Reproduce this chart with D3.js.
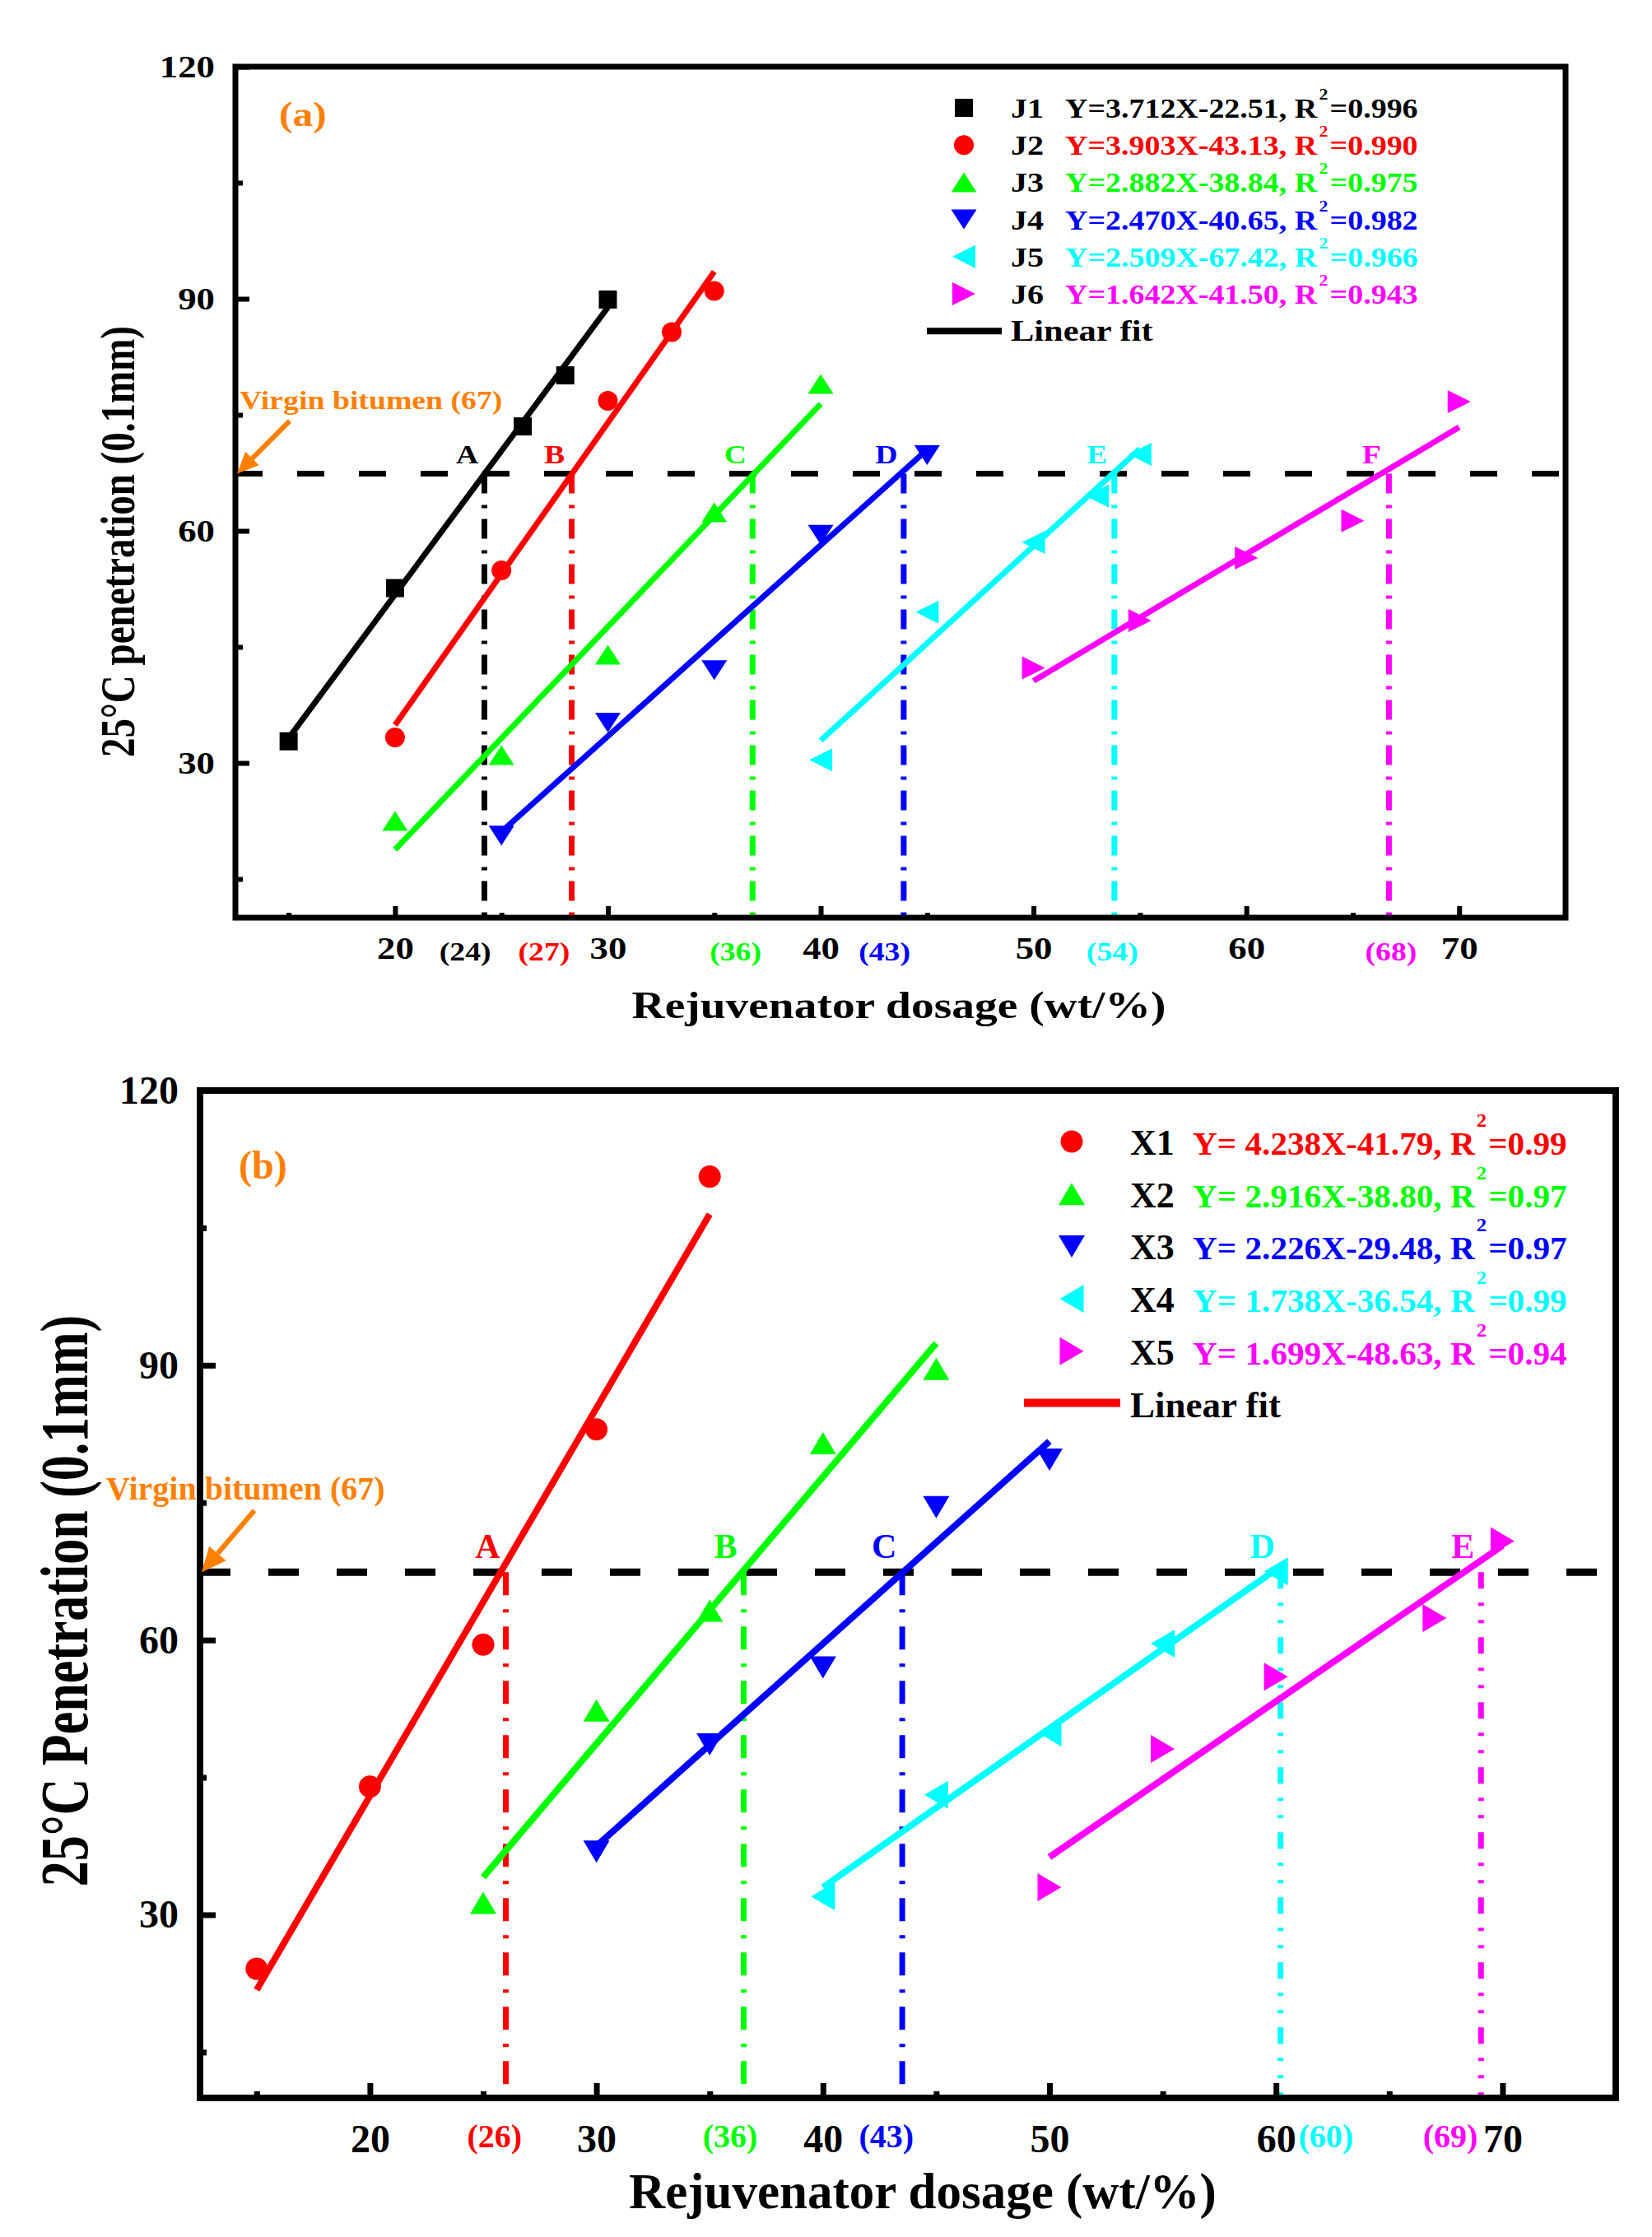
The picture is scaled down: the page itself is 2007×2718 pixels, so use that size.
<!DOCTYPE html>
<html>
<head>
<meta charset="utf-8">
<script src="https://cdn.jsdelivr.net/npm/d3@7"></script>
<style>
  body { margin: 0; background: #fff; }
  text { font-family: "Liberation Serif", "Times New Roman", serif; font-weight: bold; }
</style>
</head>
<body>
<svg id="chart" width="2007" height="2718"></svg>
<script>
// ---- shared axis values ----
var doseMajor = [20, 30, 40, 50, 60, 70];
var doseMinor = [15, 25, 35, 45, 55, 65];
var penMajor = [30, 60, 90, 120];
var penMinor = [15, 45, 75, 105];
var virginPen = 67.4;   // where the dashed reference line sits in the picture

// ---- panel (a): J1..J6 ----
var jNames = ["J1", "J2", "J3", "J4", "J5", "J6"];
var jShapes = ["square", "circle", "up", "down", "left", "right"];
var jColors = ["#000000", "#ff0000", "#00ff00", "#0000ff", "#00ffff", "#ff00ff"];
var jEq = ["Y=3.712X-22.51, R", "Y=3.903X-43.13, R", "Y=2.882X-38.84, R",
           "Y=2.470X-40.65, R", "Y=2.509X-67.42, R", "Y=1.642X-41.50, R"];
var jR2 = ["=0.996", "=0.990", "=0.975", "=0.982", "=0.966", "=0.943"];
var jDose = [[15, 20, 26, 28, 30], [20, 25, 30, 33, 35], [20, 25, 30, 35, 40],
             [25, 30, 35, 40, 45], [40, 45, 50, 53, 55], [50, 55, 60, 65, 70]];
var jPen = [[32.8, 52.6, 73.5, 80.1, 89.9], [33.3, 54.9, 76.8, 85.7, 91.0],
            [22.5, 31.0, 44.0, 62.4, 79.0], [20.6, 35.2, 42.0, 59.5, 69.8],
            [30.4, 49.5, 58.5, 64.5, 69.9], [42.3, 48.4, 56.5, 61.3, 76.7]];
var jFitStart = [[15, 33.2], [20, 34.9], [20, 18.8], [25, 21.1], [40, 32.9], [50, 40.6]];
var jFitEnd = [[30, 88.9], [35, 93.5], [40, 76.4], [45, 70.5], [55, 70.6], [70, 73.4]];
var jCross = [24.2, 28.3, 36.8, 43.9, 53.8, 66.7];
var jLetters = ["A", "B", "C", "D", "E", "F"];
var jCrossText = ["(24)", "(27)", "(36)", "(43)", "(54)", "(68)"];
var jCrossTextAt = [23.3, 27.0, 36.0, 43.0, 53.7, 66.8];

// ---- panel (b): X1..X5 ----
var xNames = ["X1", "X2", "X3", "X4", "X5"];
var xShapes = ["circle", "up", "down", "left", "right"];
var xColors = ["#ff0000", "#00ff00", "#0000ff", "#00ffff", "#ff00ff"];
var xEq = ["Y= 4.238X-41.79, R", "Y= 2.916X-38.80, R", "Y= 2.226X-29.48, R",
           "Y= 1.738X-36.54, R", "Y= 1.699X-48.63, R"];
var xR2 = ["=0.99", "=0.97", "=0.97", "=0.99", "=0.94"];
var xDose = [[15, 20, 25, 30, 35], [25, 30, 35, 40, 45], [30, 35, 40, 45, 50],
             [40, 45, 50, 55, 60], [50, 55, 60, 67, 70]];
var xPen = [[24.1, 44.0, 59.5, 83.0, 110.6], [31.3, 52.3, 63.2, 81.5, 89.6],
            [36.9, 48.6, 57.0, 74.5, 79.7], [32.0, 43.1, 49.9, 59.6, 67.5],
            [33.0, 48.1, 56.0, 62.4, 70.8]];
var xFitStart = [[15, 21.8], [25, 34.1], [30, 37.5], [40, 33.0], [50, 36.3]];
var xFitEnd = [[35, 106.5], [45, 92.4], [50, 81.7], [60, 67.7], [70, 70.3]];
var xCross = [26.0, 36.5, 43.5, 60.2, 69.05];
var xLetters = ["A", "B", "C", "D", "E"];
var xCrossText = ["(26)", "(36)", "(43)", "(60)", "(69)"];
var xCrossTextAt = [25.5, 35.9, 42.8, 62.2, 67.7];

var ORANGE = "#ff8000";
var svg = d3.select("#chart");
svg.append("rect").attr("width", 2007).attr("height", 2718).attr("fill", "#fff");

// text placed with a horizontal stretch (panel a is wider than plain Times)
function label(g, x, y, s, size, sx, anchor, color, weight) {
    return g.append("text")
        .attr("transform", "translate(" + x + "," + y + ") scale(" + sx + ",1)")
        .attr("font-size", size)
        .attr("text-anchor", anchor || "start")
        .attr("fill", color || "#000")
        .attr("font-weight", weight || "bold")
        .text(s);
}

// marker path, w = horizontal extent, h = vertical extent
function markerPath(shape, cx, cy, w, h) {
    var a = w / 2, b = h / 2;
    if (shape === "square") return "M" + (cx - a) + "," + (cy - b) + "h" + w + "v" + h + "h" + (-w) + "Z";
    if (shape === "circle") return "M" + (cx - a) + "," + cy + "a" + a + "," + b + " 0 1,0 " + w + ",0a" + a + "," + b + " 0 1,0 " + (-w) + ",0Z";
    if (shape === "up") return "M" + (cx - a) + "," + (cy + b) + "L" + (cx + a) + "," + (cy + b) + "L" + cx + "," + (cy - b) + "Z";
    if (shape === "down") return "M" + (cx - a) + "," + (cy - b) + "L" + (cx + a) + "," + (cy - b) + "L" + cx + "," + (cy + b) + "Z";
    if (shape === "left") return "M" + (cx - a) + "," + cy + "L" + (cx + a) + "," + (cy - b) + "L" + (cx + a) + "," + (cy + b) + "Z";
    return "M" + (cx + a) + "," + cy + "L" + (cx - a) + "," + (cy - b) + "L" + (cx - a) + "," + (cy + b) + "Z";
}

function markerSize(p, shape) {
    if (shape === "square") return [p.sq, p.sq];
    if (shape === "circle") return [p.circ, p.circ];
    if (shape === "up" || shape === "down") return [p.triW, p.triH];
    return [p.sideW, p.sideH];
}

function drawPanel(p) {
    var g = svg.append("g");
    var x = d3.scaleLinear().domain([12.5, 75]).range([p.left, p.right]);
    var y = d3.scaleLinear().domain([10, 120]).range([p.bottom, p.top]);

    // dashed reference line
    g.append("line")
        .attr("x1", x(12.5)).attr("x2", x(75))
        .attr("y1", y(virginPen)).attr("y2", y(virginPen))
        .attr("stroke", "#000").attr("stroke-width", p.dashW)
        .attr("stroke-dasharray", p.dash);

    // vertical drop lines
    p.cross.forEach(function (c, i) {
        g.append("line")
            .attr("x1", x(c)).attr("x2", x(c))
            .attr("y1", y(virginPen)).attr("y2", y(10))
            .attr("stroke", p.colors[i]).attr("stroke-width", p.dropW)
            .attr("stroke-dasharray", p.dropDash[i]);
        label(g, x(c) - p.letterDx, y(virginPen) - p.letterDy, p.letters[i], p.letterSize, p.sx, "middle", p.colors[i]);
    });

    // fit lines
    p.fitStart.forEach(function (s, i) {
        g.append("line")
            .attr("x1", x(s[0])).attr("y1", y(s[1]))
            .attr("x2", x(p.fitEnd[i][0])).attr("y2", y(p.fitEnd[i][1]))
            .attr("stroke", p.colors[i]).attr("stroke-width", p.fitW);
    });

    // points
    p.dose.forEach(function (ds, i) {
        var sz = markerSize(p, p.shapes[i]);
        g.selectAll(null).data(ds).enter().append("path")
            .attr("d", function (d, k) { return markerPath(p.shapes[i], x(d), y(p.pen[i][k]), sz[0], sz[1]); })
            .attr("fill", p.colors[i]);
    });

    // frame
    g.append("rect")
        .attr("x", p.left).attr("y", p.top)
        .attr("width", p.right - p.left).attr("height", p.bottom - p.top)
        .attr("fill", "none").attr("stroke", "#000").attr("stroke-width", p.frameW);

    // axes, ticks pointing inward
    function axisStyle(ax) {
        ax.select(".domain").remove();
        ax.selectAll("line").attr("stroke-width", p.tickW);
        ax.attr("font-family", null).attr("font-size", null);
    }
    var yMinor = g.append("g").attr("transform", "translate(" + p.left + ",0)")
        .call(d3.axisLeft(y).tickValues(penMinor).tickSizeInner(-p.yTickMinor).tickSizeOuter(0).tickFormat(""));
    axisStyle(yMinor);
    var yMajor = g.append("g").attr("transform", "translate(" + p.left + ",0)")
        .call(d3.axisLeft(y).tickValues(penMajor).tickSizeInner(-p.yTickMajor).tickSizeOuter(0).tickPadding(p.yPad));
    axisStyle(yMajor);
    yMajor.selectAll("text")
        .attr("font-size", p.tickSize).attr("fill", "#000")
        .attr("transform", function () { return "translate(" + d3.select(this).attr("x") + ",0) scale(" + p.sx + ",1)"; })
        .attr("x", 0);

    var xMinor = g.append("g").attr("transform", "translate(0," + p.bottom + ")")
        .call(d3.axisBottom(x).tickValues(doseMinor).tickSizeInner(-p.xTickMinor).tickSizeOuter(0).tickFormat(""));
    axisStyle(xMinor);
    var xMajor = g.append("g").attr("transform", "translate(0," + p.bottom + ")")
        .call(d3.axisBottom(x).tickValues(doseMajor).tickSizeInner(-p.xTickMajor).tickSizeOuter(0));
    axisStyle(xMajor);
    xMajor.selectAll("text")
        .attr("font-size", p.tickSize).attr("fill", "#000")
        .attr("y", 0).attr("dy", 0)
        .attr("transform", "translate(0," + p.xLabDy + ") scale(" + p.sx + ",1)");

    // coloured crossing values under the axis
    p.crossText.forEach(function (t, i) {
        label(g, x(p.crossTextAt[i]), p.bottom + p.crossDy, t, p.crossSize, p.sx, "middle", p.colors[i], p.crossWeight);
    });

    // axis titles
    label(g, p.xTitleX, p.xTitleY, "Rejuvenator dosage (wt/%)", p.xTitleSize, p.sx, "middle");
    g.append("text")
        .attr("transform", "translate(" + p.yTitleX + "," + p.yTitleY + ") rotate(-90) scale(1," + p.yTitleStretch + ")")
        .attr("text-anchor", "middle").attr("font-size", p.yTitleSize).attr("fill", "#000")
        .text(p.yTitle);

    // panel tag
    label(g, p.tagX, p.tagY, p.tag, p.tagSize, p.sx, "start", ORANGE);

    // virgin bitumen annotation with arrow
    var tipX = x(12.5) + 2, tipY = y(virginPen);
    var tailX = tipX + p.arrowDx, tailY = tipY - p.arrowDy;
    var ang = Math.atan2(tipY - tailY, tipX - tailX);
    var hl = p.arrowHead, hw = p.arrowHead * 0.45;
    var bx = tipX - hl * Math.cos(ang), by = tipY - hl * Math.sin(ang);
    g.append("line").attr("x1", tailX).attr("y1", tailY).attr("x2", bx).attr("y2", by)
        .attr("stroke", ORANGE).attr("stroke-width", p.arrowW);
    g.append("path")
        .attr("d", "M" + tipX + "," + tipY +
            "L" + (bx + hw * Math.sin(ang)) + "," + (by - hw * Math.cos(ang)) +
            "L" + (bx - hw * Math.sin(ang)) + "," + (by + hw * Math.cos(ang)) + "Z")
        .attr("fill", ORANGE);
    label(g, p.virginX, p.virginY, "Virgin bitumen (67)", p.virginSize, p.sx, "start", ORANGE);

    // legend
    p.names.forEach(function (n, i) {
        var cy = p.legTop + i * p.legStep;
        var sz = markerSize(p, p.shapes[i]);
        g.append("path").attr("d", markerPath(p.shapes[i], p.legSymX, cy - p.legSymUp, sz[0], sz[1])).attr("fill", p.colors[i]);
        label(g, p.legNameX, cy, n, p.legNameSize, p.sx, "start", "#000");
        var t = label(g, p.legEqX, cy, "", p.legEqSize, p.legSx, "start", p.colors[i]);
        t.append("tspan").text(p.eq[i]);
        t.append("tspan").attr("font-size", p.supSize).attr("dy", -p.supUp).attr("dx", 2).text("2");
        t.append("tspan").attr("dy", p.supUp).attr("dx", 2).text(p.r2[i]);
    });
    var ly = p.legTop + p.names.length * p.legStep;
    g.append("line")
        .attr("x1", p.legLineX1).attr("x2", p.legLineX2)
        .attr("y1", ly - p.legLineUp).attr("y2", ly - p.legLineUp)
        .attr("stroke", p.legLineColor).attr("stroke-width", p.legLineW);
    label(g, p.legNameX, ly, "Linear fit", p.legFitSize, p.sx, "start", "#000");
}

drawPanel({
    left: 286, right: 1902, top: 81, bottom: 1115, sx: 1.18,
    names: jNames, shapes: jShapes, colors: jColors, eq: jEq, r2: jR2,
    dose: jDose, pen: jPen, fitStart: jFitStart, fitEnd: jFitEnd,
    cross: jCross, letters: jLetters, crossText: jCrossText, crossTextAt: jCrossTextAt,
    sq: 22, circ: 24, triW: 31, triH: 24, sideW: 28, sideH: 28,
    dash: "33,42", dashW: 7, dropW: 7,
    dropDash: ["24,14,4,13", "24,14,4,13", "24,14,4,13", "24,14,4,13", "24,14,4,13", "24,14,4,13"],
    fitW: 7, frameW: 7, tickW: 6, yTickMajor: 17, yTickMinor: 9, xTickMajor: 14, xTickMinor: 6,
    yPad: 25, tickSize: 38, xLabDy: 50,
    crossDy: 52, crossSize: 32, crossWeight: "bold",
    letterDx: 21, letterDy: 12, letterSize: 32,
    xTitleX: 1092, xTitleY: 1237, xTitleSize: 47,
    yTitle: "25\u00B0C penetration (0.1mm)", yTitleX: 163, yTitleY: 658, yTitleSize: 47, yTitleStretch: 1.26,
    tag: "(a)", tagX: 339, tagY: 153, tagSize: 42,
    arrowDx: 64, arrowDy: 64, arrowHead: 26, arrowW: 6,
    virginX: 291, virginY: 497, virginSize: 32,
    legTop: 143, legStep: 45.2, legSymX: 1171, legSymUp: 12,
    legNameX: 1228, legNameSize: 34, legEqX: 1294, legEqSize: 33, legSx: 1.15,
    supSize: 19, supUp: 22,
    legLineX1: 1126, legLineX2: 1217, legLineUp: 12, legLineW: 8, legLineColor: "#000", legFitSize: 36
});

drawPanel({
    left: 243, right: 1963, top: 1325, bottom: 2549, sx: 1.0,
    names: xNames, shapes: xShapes, colors: xColors, eq: xEq, r2: xR2,
    dose: xDose, pen: xPen, fitStart: xFitStart, fitEnd: xFitEnd,
    cross: xCross, letters: xLetters, crossText: xCrossText, crossTextAt: xCrossTextAt,
    sq: 26, circ: 27, triW: 32, triH: 27, sideW: 29, sideH: 34,
    dash: "37,46", dashW: 9, dropW: 7,
    dropDash: ["28,17,4,17", "28,17,4,17", "28,17,4,17", "20,17,4,17,4,17", "20,17,4,17,4,17"],
    fitW: 8, frameW: 8, tickW: 7, yTickMajor: 19, yTickMinor: 8, xTickMajor: 18, xTickMinor: 8,
    yPad: 26, tickSize: 48, xLabDy: 66,
    crossDy: 60, crossSize: 40, crossWeight: "normal",
    letterDx: 22, letterDy: 17, letterSize: 42,
    xTitleX: 1121, xTitleY: 2683, xTitleSize: 61,
    yTitle: "25\u00B0C Penetration (0.1mm)", yTitleX: 106, yTitleY: 1945, yTitleSize: 62, yTitleStretch: 1.33,
    tag: "(b)", tagX: 290, tagY: 1432, tagSize: 48,
    arrowDx: 64, arrowDy: 75, arrowHead: 30, arrowW: 6,
    virginX: 129, virginY: 1822, virginSize: 40,
    legTop: 1403, legStep: 63.7, legSymX: 1302, legSymUp: 16,
    legNameX: 1373, legNameSize: 44, legEqX: 1449, legEqSize: 40, legSx: 1.03,
    supSize: 24, supUp: 34,
    legLineX1: 1244, legLineX2: 1361, legLineUp: 17, legLineW: 10, legLineColor: "#ff0000", legFitSize: 45
});
</script>
</body>
</html>
